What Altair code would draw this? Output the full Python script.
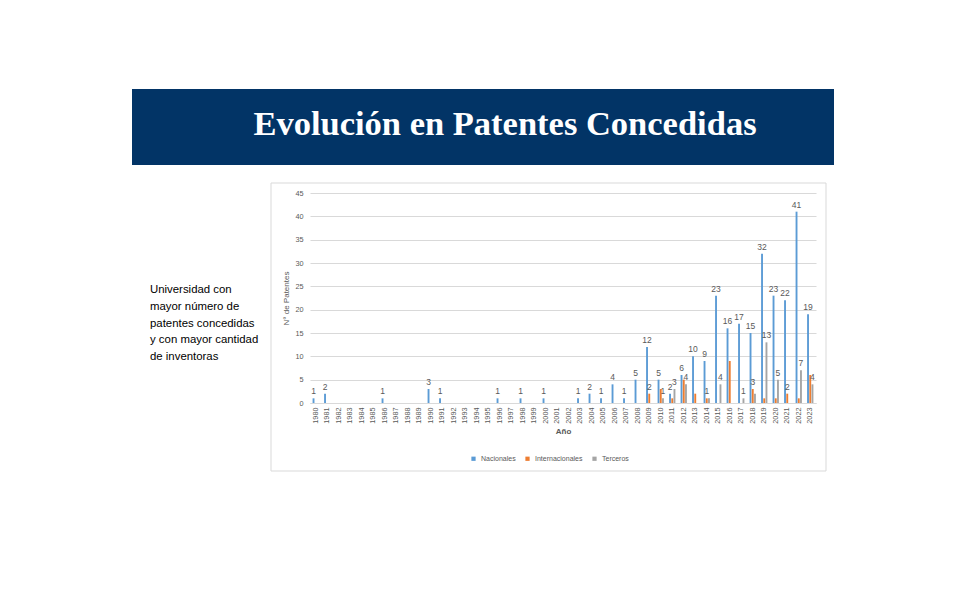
import altair as alt
import pandas as pd

years = [str(y) for y in range(1980, 2024)]
nacionales = [1, 2, 0, 0, 0, 0, 1, 0, 0, 0, 3, 1, 0, 0, 0, 0, 1, 0, 1, 0, 1, 0, 0, 1, 2, 1, 4, 1, 5,
              12, 5, 2, 6, 10, 9, 23, 16, 17, 15, 32, 23, 22, 41, 19]
internacionales = [0] * 29 + [2, 3, 1, 5, 2, 1, 0, 9, 0, 3, 1, 1, 2, 1, 6]
terceros = [0] * 29 + [0, 1, 3, 4, 0, 1, 4, 0, 1, 2, 13, 5, 0, 7, 4]
series_names = ["Nacionales", "Internacionales", "Terceros"]
series_colors = ["#5B9BD5", "#ED7D31", "#A5A5A5"]
label_years = {
    "Nacionales": [y for y, v in zip(years, nacionales) if v > 0],
    "Internacionales": ["2009", "2014", "2018", "2021"],
    "Terceros": ["2010", "2011", "2012", "2015", "2017", "2019", "2020", "2022", "2023"],
}
title_text = "Evolución en Patentes Concedidas"
side_lines = ["Universidad con", "mayor número de", "patentes concedidas",
              "y con mayor cantidad", "de inventoras"]
y_ticks = [0, 5, 10, 15, 20, 25, 30, 35, 40, 45]

rows = []
for name, vals in zip(series_names, [nacionales, internacionales, terceros]):
    for y, v in zip(years, vals):
        rows.append({"Año": y, "Serie": name, "Valor": v,
                     "Etiqueta": str(v) if (y in label_years[name] and v > 0) else ""})
df = pd.DataFrame(rows)
one = pd.DataFrame({"a": [0]})

W, H = 506, 210

box = alt.Chart(one).mark_rect(fillOpacity=0, stroke="#D9D9D9", strokeWidth=1).encode(
    x=alt.value(-39), x2=alt.value(516), y=alt.value(-10), y2=alt.value(278))

banner = alt.Chart(one).mark_rect(fill="#023466").encode(
    x=alt.value(-178), x2=alt.value(524), y=alt.value(-104), y2=alt.value(-28))

title = alt.Chart(pd.DataFrame({"t": [title_text]})).mark_text(
    font="Liberation Serif", fontWeight="bold", fontSize=34.5, color="white",
    align="center", baseline="middle").encode(
    x=alt.value(195), y=alt.value(-68), text="t:N")

side = alt.Chart(pd.DataFrame({"t": ["\n".join(side_lines)]})).mark_text(
    font="Liberation Sans", fontSize=11.4, color="#000000", align="left",
    baseline="middle", lineBreak="\n", lineHeight=16.8).encode(
    x=alt.value(-160), y=alt.value(97), text="t:N")

xaxis = alt.Axis(title="Año", labelAngle=270, labelFontSize=7.3, labelColor="#595959",
                 labelFont="Liberation Sans", titleFont="Liberation Sans",
                 titleFontSize=8, titleFontWeight="bold", titleColor="#595959",
                 domainColor="#D9D9D9", ticks=False, labelPadding=4, titlePadding=4,
                 labelOverlap=False)
yaxis = alt.Axis(title="N° de Patentes", values=y_ticks, gridColor="#D9D9D9",
                 domain=False, ticks=False, labelFontSize=7.3, labelColor="#595959",
                 labelFont="Liberation Sans", titleFont="Liberation Sans",
                 titleFontSize=8, titleFontWeight="normal", titleColor="#595959",
                 labelPadding=7, titlePadding=4, labelOverlap=False)
xscale = alt.Scale(domain=years, paddingInner=0.45, paddingOuter=0.225)
yscale = alt.Scale(domain=[0, 45], nice=False)
xoffscale = alt.Scale(domain=series_names, paddingInner=0.15)

bars = alt.Chart(df).mark_bar().encode(
    x=alt.X("Año:O", sort=years, scale=xscale, axis=xaxis),
    y=alt.Y("Valor:Q", scale=yscale, axis=yaxis),
    xOffset=alt.XOffset("Serie:N", sort=series_names, scale=xoffscale),
    color=alt.Color("Serie:N", sort=series_names,
                    scale=alt.Scale(domain=series_names, range=series_colors),
                    legend=alt.Legend(title=None, orient="none", legendX=160, legendY=262,
                                      direction="horizontal", symbolType="square",
                                      symbolSize=18, labelFontSize=7, labelColor="#595959",
                                      labelFont="Liberation Sans", columnPadding=8,
                                      symbolStrokeWidth=0)))

labels = alt.Chart(df).mark_text(fontSize=8.5, color="#595959", font="Liberation Sans",
                                 baseline="bottom", dy=-2).encode(
    x=alt.X("Año:O", sort=years, scale=xscale, axis=xaxis),
    y=alt.Y("Valor:Q", scale=yscale, axis=yaxis),
    xOffset=alt.XOffset("Serie:N", sort=series_names, scale=xoffscale),
    text="Etiqueta:N")

chart = alt.layer(box, banner, title, side, bars, labels).properties(
    width=W, height=H, autosize=alt.AutoSizeParams(type="none"),
    padding={"left": 302, "top": 185, "right": 153, "bottom": 186},
    background="white"
).configure_view(stroke=None)

chart.save("out.html", embed_options={"renderer": "svg", "actions": False})
